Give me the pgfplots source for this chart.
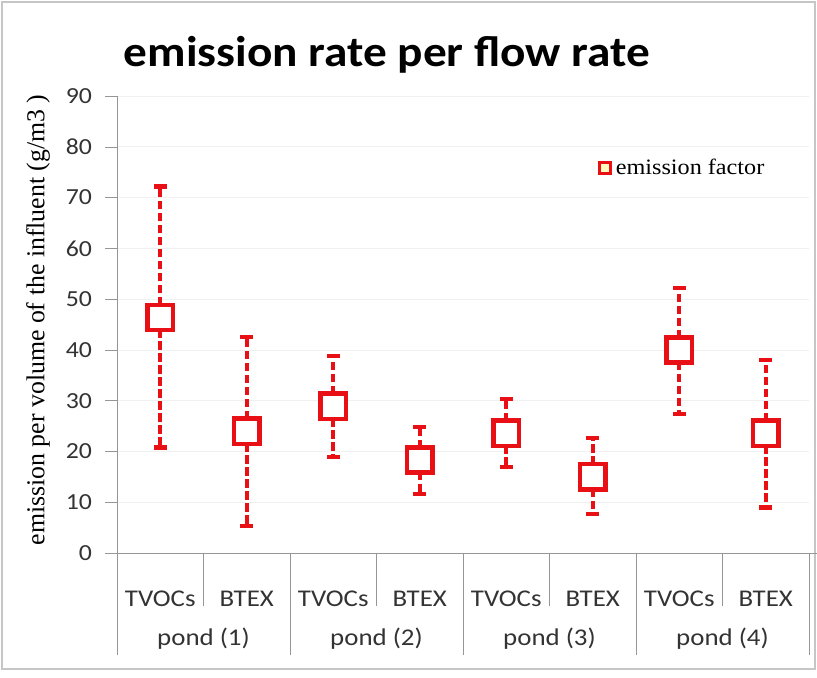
\documentclass[border=0pt]{standalone}
\usepackage{pgfplots}
\pgfplotsset{compat=1.18}
\usepackage{fontspec}
\setmainfont{Liberation Serif}
\newfontfamily\legfont[FakeStretch=1.1]{Liberation Serif}
\newfontfamily\calfont[FakeStretch=1.12]{Carlito}
\newfontfamily\titlefont[FakeStretch=1.1]{Carlito}
\definecolor{exred}{RGB}{232,16,20}
\definecolor{axgray}{RGB}{150,150,150}
\pgfplotstableread{
x y ep em
0 46.4 25.8 25.6
1 24.0 18.5 18.7
2 28.9 9.9 10.0
3 18.3 6.5 6.7
4 23.6 6.7 6.7
5 15.0 7.6 7.3
6 40.0 12.2 12.6
7 23.6 14.4 14.6
}\emis
\begin{document}
\begin{tikzpicture}[x=0.5pt,y=0.5pt]
\useasboundingbox (0,0) rectangle (817,677);
\draw[gray!45, line width=1pt] (2,8) rectangle (815,675);
\begin{axis}[
  at={(58.5pt,62pt)}, anchor=south west,
  scale only axis, width=346pt, height=228.5pt,
  xmin=-0.5, xmax=7.5, ymin=0, ymax=90,
  clip=false,
  axis x line*=bottom, axis y line*=left,
  axis line style={axgray, -},
  xtick={0,...,7},
  xticklabels={TVOCs,BTEX,TVOCs,BTEX,TVOCs,BTEX,TVOCs,BTEX},
  x tick style={draw=none},
  xticklabel style={anchor=center, yshift=-17pt, font=\calfont\fontsize{12}{14}\selectfont, text=black!80},
  ytick={0,10,...,90},
  y tick style={axgray},
  tick align=outside, major tick length=6pt,
  yticklabel style={font=\calfont\fontsize{11.5}{13}\selectfont, text=black!80, xshift=-3pt},
  /pgf/number format/assume math mode=true,
  ymajorgrids, grid style={gray!12},
  legend style={at={(0.694,0.842)}, anchor=west, draw=none, fill=none,
     font=\legfont\fontsize{11}{13}\selectfont, inner sep=0pt},
  legend image code/.code={\draw[exred, line width=1.5pt, fill=yellow!25] (-2.8pt,-2.8pt) rectangle (2.8pt,2.8pt);},
  legend cell align=left,
]
\addplot[draw=none, mark=none,
  error bars/.cd, y dir=both, y explicit,
  error bar style={exred, line width=1.8pt, dash pattern=on 4.2pt off 1.8pt},
  error mark options={rotate=90, exred, line width=2.2pt, mark size=3.2pt, solid}]
table[x=x, y=y, y error plus=ep, y error minus=em] {\emis};
\addlegendentry{emission factor}
\addplot[only marks, mark=square*, mark size=6.3pt,
  mark options={draw=exred, line width=2.2pt, fill=white, solid}, forget plot]
table[x=x, y=y] {\emis};
\pgfplotsinvokeforeach{-0.5,1.5,3.5,5.5,7.5}{
  \draw[axgray] (axis cs:#1,0) -- ([yshift=-51pt]axis cs:#1,0);
}
\pgfplotsinvokeforeach{0.5,2.5,4.5,6.5}{
  \draw[axgray] (axis cs:#1,0) -- ([yshift=-26.5pt]axis cs:#1,0);
}
\draw[axgray] (axis cs:7.5,0) -- ([xshift=4pt]axis cs:7.5,0);
\node[font=\calfont\fontsize{12}{14}\selectfont, text=black!80, anchor=center] at ([yshift=-43pt]axis cs:0.5,0) {pond (1)};
\node[font=\calfont\fontsize{12}{14}\selectfont, text=black!80, anchor=center] at ([yshift=-43pt]axis cs:2.5,0) {pond (2)};
\node[font=\calfont\fontsize{12}{14}\selectfont, text=black!80, anchor=center] at ([yshift=-43pt]axis cs:4.5,0) {pond (3)};
\node[font=\calfont\fontsize{12}{14}\selectfont, text=black!80, anchor=center] at ([yshift=-43pt]axis cs:6.5,0) {pond (4)};
\end{axis}
\node[font=\fontsize{12.9}{15}\selectfont, rotate=90, anchor=center] at (38,357) {emission per volume of the influent (g/m3 )};
\node[font=\titlefont\bfseries\fontsize{21.5}{26}\selectfont, anchor=center] at (387,622) {emission rate per flow rate};
\end{tikzpicture}
\end{document}
